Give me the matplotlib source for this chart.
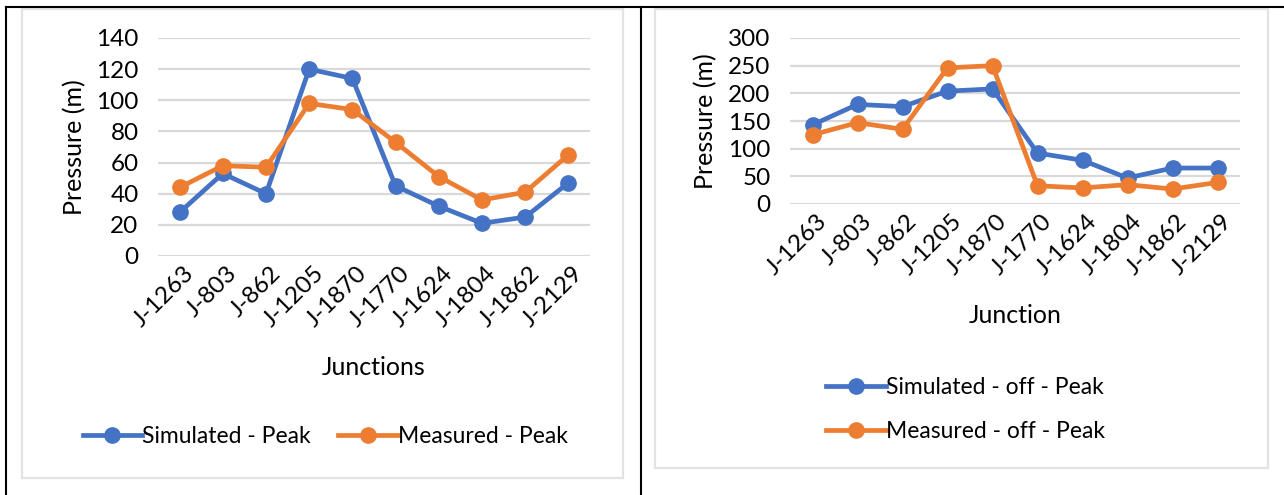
import matplotlib.pyplot as plt
import matplotlib.transforms as mtransforms
from matplotlib.lines import Line2D
from matplotlib.patches import Rectangle

junctions = ["J-1263", "J-803", "J-862", "J-1205", "J-1870",
             "J-1770", "J-1624", "J-1804", "J-1862", "J-2129"]

simulated_peak = [28, 53, 40, 120, 114, 45, 32, 21, 25, 47]
measured_peak = [44, 58, 57, 98, 94, 73, 51, 36, 41, 65]

simulated_off_peak = [143, 180, 176, 204, 208, 92, 79, 47, 65, 65]
measured_off_peak = [125, 147, 135, 246, 250, 33, 29, 35, 27, 39]

BLUE = "#4472C4"
ORANGE = "#ED7D31"
GRID = "#D9D9D9"

plt.rcParams["font.family"] = ["Lato", "DejaVu Sans"]

W, H = 1284, 495
fig = plt.figure(figsize=(W / 100, H / 100), dpi=100)


def px_box(x0, y0, x1, y1):
    # pixel box (top-left origin) -> figure fraction rect
    return [x0 / W, 1 - y1 / H, (x1 - x0) / W, (y1 - y0) / H]


def draw_panel(ax, sim, meas, sim_label, meas_label, ymax, ystep, xlabel):
    x = list(range(len(junctions)))
    ax.plot(x, sim, color=BLUE, lw=3.4, marker="o", ms=11, label=sim_label, zorder=3)
    ax.plot(x, meas, color=ORANGE, lw=3.4, marker="o", ms=11, label=meas_label, zorder=3)
    ax.set_xlim(-0.5, 9.5)
    ax.set_ylim(0, ymax)
    ax.set_yticks(range(0, ymax + 1, ystep))
    ax.set_xticks(x)
    ax.tick_params(axis="y", labelsize=17.5, length=0, pad=14)
    ax.tick_params(axis="x", length=0, pad=10)
    ax.set_xticklabels(junctions, rotation=45, ha="right", va="center",
                       rotation_mode="anchor", fontsize=17.5)
    # nudge the rotated labels right (after tick_params, which resets transforms)
    shift = mtransforms.ScaledTranslation(11 / 100, 0, fig.dpi_scale_trans)
    for lab in ax.get_xticklabels():
        lab.set_transform(lab.get_transform() + shift)
    ax.grid(axis="y", color=GRID, lw=1.6)
    ax.set_axisbelow(True)
    for s in ax.spines.values():
        s.set_visible(False)
    ax.set_ylabel("Pressure (m)", fontsize=18)
    ax.set_xlabel(xlabel, fontsize=18)


# left panel
ax1 = fig.add_axes(px_box(158, 38, 590, 256))
ax1.patch.set_alpha(0)
draw_panel(ax1, simulated_peak, measured_peak,
           "Simulated - Peak", "Measured - Peak", 140, 20, "Junctions")
ax1.xaxis.set_label_coords(0.5, -0.46)
ax1.yaxis.set_label_coords(-0.165, 0.5)
ax1.legend(loc="center", bbox_to_anchor=(0.387, -0.83), ncol=2, frameon=False,
           fontsize=16.5, handlelength=2.6, handletextpad=0.0, columnspacing=1.2)

# right panel
ax2 = fig.add_axes(px_box(790, 38, 1240, 204))
ax2.patch.set_alpha(0)
draw_panel(ax2, simulated_off_peak, measured_off_peak,
           "Simulated - off - Peak", "Measured - off - Peak", 300, 50, "Junction")
ax2.xaxis.set_label_coords(0.5, -0.6)
ax2.yaxis.set_label_coords(-0.162, 0.5)
ax2.legend(loc="center", bbox_to_anchor=(0.39, -1.24), ncol=1, frameon=False,
           fontsize=16.5, handlelength=2.6, handletextpad=0.0, labelspacing=1.0)

# panel frames
for (x0, y0, x1, y1) in [(22, 9, 623, 478), (655, 9, 1268, 468)]:
    fig.add_artist(Rectangle((x0 / W, 1 - y1 / H), (x1 - x0) / W, (y1 - y0) / H,
                             transform=fig.transFigure, fill=False,
                             edgecolor="#E3E3E3", lw=1.6))
for xs, ys in [([6, W], [7, 7]), ([6, 6], [7, H]), ([641, 641], [7, H])]:
    fig.add_artist(Line2D([v / W for v in xs], [1 - v / H for v in ys],
                          transform=fig.transFigure, color="black", lw=1.5))

fig.savefig("out.png", dpi=100)
